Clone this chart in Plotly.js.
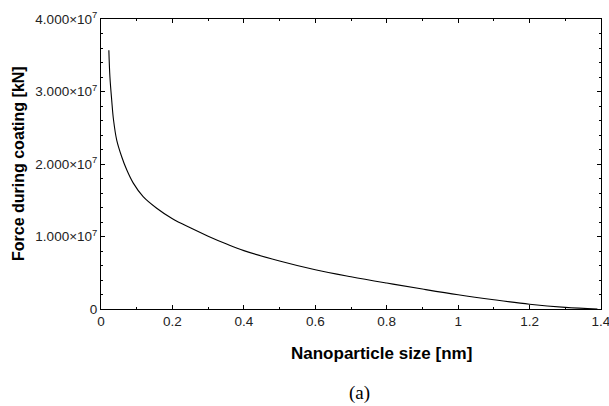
<!DOCTYPE html>
<html>
<head>
<meta charset="utf-8">
<script src="https://cdn.plot.ly/plotly-3.0.1.min.js"></script>
<style>html,body{margin:0;padding:0;background:#fff;}#chart{width:609px;height:406px;}</style>
</head>
<body>
<div id="chart"></div>
<script>
// Nanoparticle size [nm]
const sizeNm = [0.022, 0.025, 0.03, 0.035, 0.044, 0.058, 0.072, 0.09, 0.118, 0.156, 0.2, 0.25, 0.3, 0.35, 0.4, 0.5, 0.6, 0.7, 0.8, 0.9, 1.0, 1.1, 1.2, 1.3, 1.39];
// Force during coating [kN]
const forceKN = [3.57e7, 3.20e7, 2.88e7, 2.61e7, 2.33e7, 2.10e7, 1.92e7, 1.74e7, 1.55e7, 1.39e7, 1.245e7, 1.12e7, 1.005e7, 0.90e7, 0.805e7, 0.663e7, 0.542e7, 0.445e7, 0.358e7, 0.275e7, 0.196e7, 0.127e7, 0.066e7, 0.023e7, 0];

const yTickVals = [0, 1e7, 2e7, 3e7, 4e7];
const yTickText = ["0", "1.000×10<sup>7</sup>", "2.000×10<sup>7</sup>", "3.000×10<sup>7</sup>", "4.000×10<sup>7</sup>"];
const xTickVals = [0, 0.2, 0.4, 0.6, 0.8, 1, 1.2, 1.4];
const xTickText = ["0", "0.2", "0.4", "0.6", "0.8", "1", "1.2", "1.4"];

const fam = "Arial, Liberation Sans, sans-serif";

const trace = {
  x: sizeNm, y: forceKN, type: "scatter", mode: "lines",
  line: {color: "#000", width: 1.1, shape: "spline", smoothing: 1},
  hoverinfo: "none"
};

const layout = {
  width: 609, height: 406,
  margin: {l: 101, r: 8, t: 19, b: 97},
  paper_bgcolor: "#fff", plot_bgcolor: "#fff",
  showlegend: false,
  font: {family: fam, size: 12, color: "#000"},
  xaxis: {
    range: [0, 1.4], tickvals: xTickVals, ticktext: xTickText,
    ticks: "inside", ticklen: 4, tickwidth: 1, tickcolor: "#000",
    minor: {dtick: 0.1, ticks: "inside", ticklen: 2, tickwidth: 1, tickcolor: "#000"},
    showline: true, linecolor: "#000", linewidth: 1, mirror: "allticks",
    ticklabeloverflow: "allow",
    showgrid: false, zeroline: false, tickfont: {family: fam, size: 13.5, color: "#222"}
  },
  yaxis: {
    range: [0, 4e7], tickvals: yTickVals, ticktext: yTickText,
    ticks: "inside", ticklen: 4, tickwidth: 1, tickcolor: "#000",
    minor: {dtick: 0.2e7, ticks: "inside", ticklen: 2, tickwidth: 1, tickcolor: "#000"},
    showline: true, linecolor: "#000", linewidth: 1, mirror: "allticks",
    ticklabeloverflow: "allow",
    showgrid: false, zeroline: false, tickfont: {family: fam, size: 13.5, color: "#222"}
  },
  annotations: [
    {text: "<b>Nanoparticle size [nm]</b>", xref: "paper", yref: "paper", x: 0.56, y: -0.152,
     xanchor: "center", yanchor: "middle", showarrow: false, font: {family: fam, size: 17, color: "#000"}},
    {text: "<b>Force during coating [kN]</b>", xref: "paper", yref: "paper", x: -0.166, y: 0.5,
     xanchor: "center", yanchor: "middle", textangle: -90, showarrow: false, font: {family: fam, size: 16, color: "#000"}},
    {text: "(a)", xref: "paper", yref: "paper", x: 0.516, y: -0.29,
     xanchor: "center", yanchor: "middle", showarrow: false, font: {family: "Times New Roman, Liberation Serif, serif", size: 19, color: "#000"}}
  ]
};

Plotly.newPlot("chart", [trace], layout, {displayModeBar: false, staticPlot: true});
</script>
</body>
</html>
